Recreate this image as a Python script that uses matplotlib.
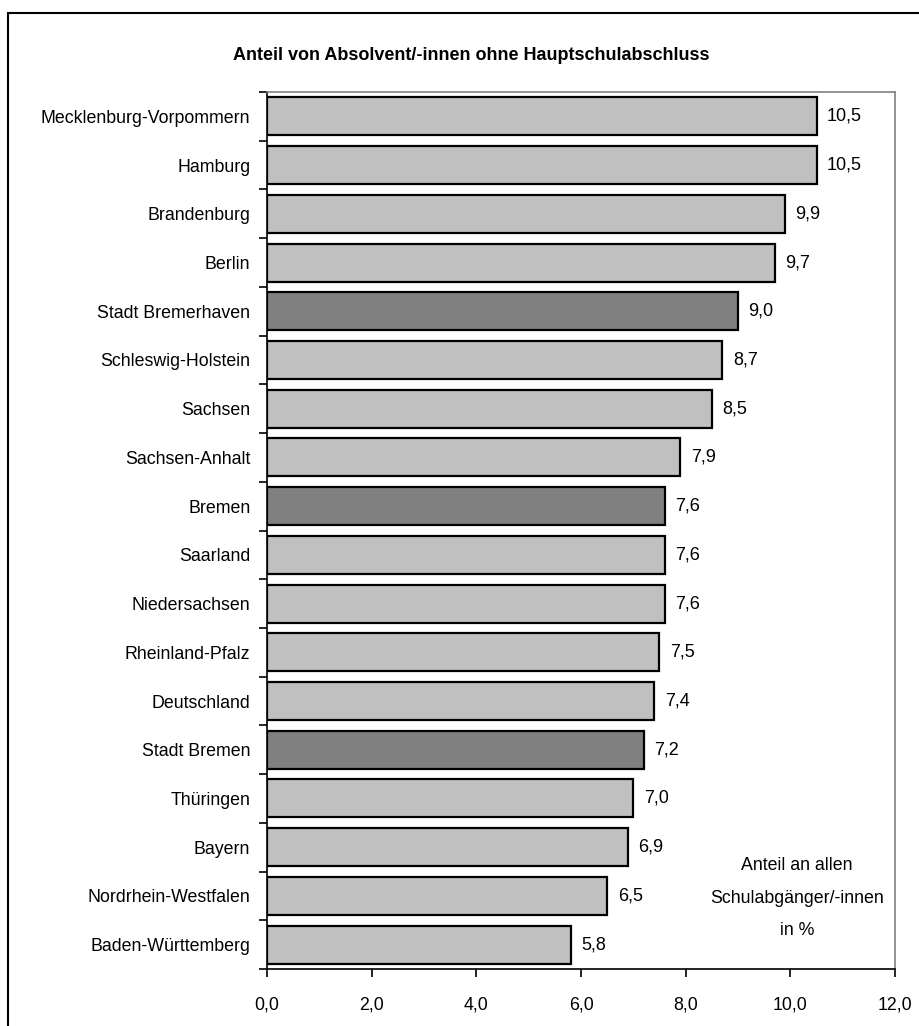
import matplotlib.pyplot as plt
from matplotlib.patches import Rectangle
import numpy as np

plt.rcParams['font.family'] = ['Liberation Sans Narrow', 'Liberation Sans', 'DejaVu Sans']

laender = ["Mecklenburg-Vorpommern", "Hamburg", "Brandenburg", "Berlin",
           "Stadt Bremerhaven", "Schleswig-Holstein", "Sachsen", "Sachsen-Anhalt",
           "Bremen", "Saarland", "Niedersachsen", "Rheinland-Pfalz", "Deutschland",
           "Stadt Bremen", "Thüringen", "Bayern", "Nordrhein-Westfalen",
           "Baden-Württemberg"]
anteil = [10.5, 10.5, 9.9, 9.7, 9.0, 8.7, 8.5, 7.9, 7.6, 7.6, 7.6, 7.5, 7.4,
          7.2, 7.0, 6.9, 6.5, 5.8]
bremen = ["Stadt Bremerhaven", "Bremen", "Stadt Bremen"]
xticks = [0, 2, 4, 6, 8, 10, 12]

fig = plt.figure(figsize=(9.2, 10.26), dpi=100)
ax = fig.add_axes([267/920, 1 - 969/1026, (895-267)/920, (969-92)/1026])

# outer frame (cut off at right / bottom like the original)
fig.patches.append(Rectangle((8/920, -0.05), 1.2, 1 - 13/1026 + 0.05,
                             transform=fig.transFigure, fill=False,
                             edgecolor='black', linewidth=1.5))

y = np.arange(len(laender))
farben = ['#808080' if l in bremen else '#C0C0C0' for l in laender]
ax.barh(y, anteil, height=0.78, color=farben, edgecolor='black', linewidth=1.6)

for yi, v in zip(y, anteil):
    ax.text(v + 0.2, yi, f"{v:.1f}".replace('.', ','), va='center', ha='left',
            fontsize=13)

ax.set_xlim(0, 12)
ax.set_ylim(len(laender) - 0.5, -0.5)
ax.set_yticks(y)
ax.set_yticklabels(laender, fontsize=12.8)
ax.set_yticks(np.arange(len(laender) + 1) - 0.5, minor=True)
ax.tick_params(axis='y', which='major', length=0, pad=12)
ax.tick_params(axis='y', which='minor', length=6, width=1.2, direction='out')
ax.set_xticks(xticks)
ax.set_xticklabels([f"{t:.1f}".replace('.', ',') for t in xticks], fontsize=12.8)
ax.tick_params(axis='x', length=6, width=1.2, direction='out', pad=14)

ax.spines['left'].set_linewidth(1.2)
ax.spines['bottom'].set_linewidth(1.2)
for s in ['top', 'right']:
    ax.spines[s].set_color('#808080')
    ax.spines[s].set_linewidth(1.2)

ax.text(10.13, 16.05, "Anteil an allen\nSchulabgänger/-innen\nin %", ha='center',
        va='center', fontsize=12.8, linespacing=2.2)

fig.text(471/920, 1 - 55/1026, "Anteil von Absolvent/-innen ohne Hauptschulabschluss",
         ha='center', va='center', fontsize=13, fontweight='bold')

fig.savefig("out.png", dpi=100)
